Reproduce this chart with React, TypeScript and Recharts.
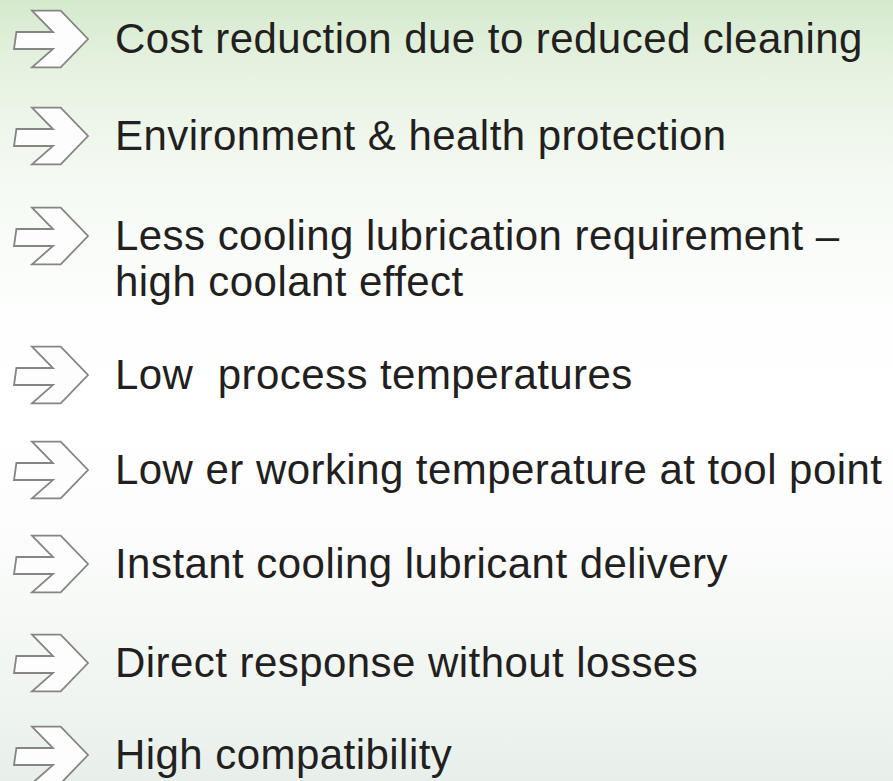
import React from 'react';
import { ScatterChart, Scatter, XAxis, YAxis } from 'recharts';

// Each benefit, split into its text lines
const itemLabels: string[][] = [
  ['Cost reduction due to reduced cleaning'],
  ['Environment & health protection'],
  ['Less cooling lubrication requirement –', 'high coolant effect'],
  ['Low  process temperatures'],
  ['Low er working temperature at tool point'],
  ['Instant cooling lubricant delivery'],
  ['Direct response without losses'],
  ['High compatibility'],
];
// Row position of each item (vertical scale value, top = 0)
const rowPositions = [39, 136, 236, 375, 470, 564, 663, 755];
// Column position of the arrow marks
const arrowColumn = [14, 14, 14, 14, 14, 14, 14, 14];

const data = itemLabels.map((lines, i) => ({
  x: arrowColumn[i],
  y: rowPositions[i],
  lines,
}));

const W = 893;
const H = 781;

const ArrowItem = (props: any) => {
  const { cx, cy, payload } = props;
  if (cx == null || cy == null) return null;
  const x0 = cx;
  const c = cy;
  const pts = [
    [x0 + 18, c - 28.3],
    [x0 + 46.7, c - 28.3],
    [x0 + 74, c],
    [x0 + 46.7, c + 28.4],
    [x0 + 18, c + 28.4],
    [x0 + 39, c + 10],
    [x0, c + 10],
    [x0 + 2.4, c - 7],
    [x0 + 39, c - 7],
  ]
    .map((p) => p.join(','))
    .join(' ');
  const lines: string[] = payload.lines;
  return (
    <g>
      <polygon
        points={pts}
        fill="#fcfdfc"
        stroke="#858585"
        strokeWidth={1.8}
        strokeLinejoin="miter"
      />
      <text
        x={x0 + 101}
        y={c + 14}
        fill="#231f20"
        fontSize={42}
        fontFamily="Liberation Sans, Arial, Helvetica, sans-serif"
        style={{ whiteSpace: 'pre', letterSpacing: '0.45px' }}
      >
        {lines.map((ln, j) => (
          <tspan key={j} x={x0 + 101} dy={j === 0 ? 0 : 46}>
            {ln}
          </tspan>
        ))}
      </text>
    </g>
  );
};

export default function App() {
  return (
    <div
      style={{
        position: 'absolute',
        left: 0,
        top: 0,
        width: W,
        height: H,
        overflow: 'hidden',
        background:
          'linear-gradient(to bottom, #d5eacd 0%, #e6f2e1 9%, #f4f9f2 22%, #fdfefd 40%, #ffffff 55%, #fbfcfb 70%, #f0f5f1 88%, #e8efea 100%)',
      }}
    >
      <ScatterChart width={W} height={H} margin={{ top: 0, right: 0, bottom: 0, left: 0 }}>
        <XAxis type="number" dataKey="x" domain={[0, W]} hide />
        <YAxis type="number" dataKey="y" domain={[0, H]} reversed hide />
        <Scatter data={data} shape={ArrowItem} isAnimationActive={false} />
      </ScatterChart>
    </div>
  );
}
